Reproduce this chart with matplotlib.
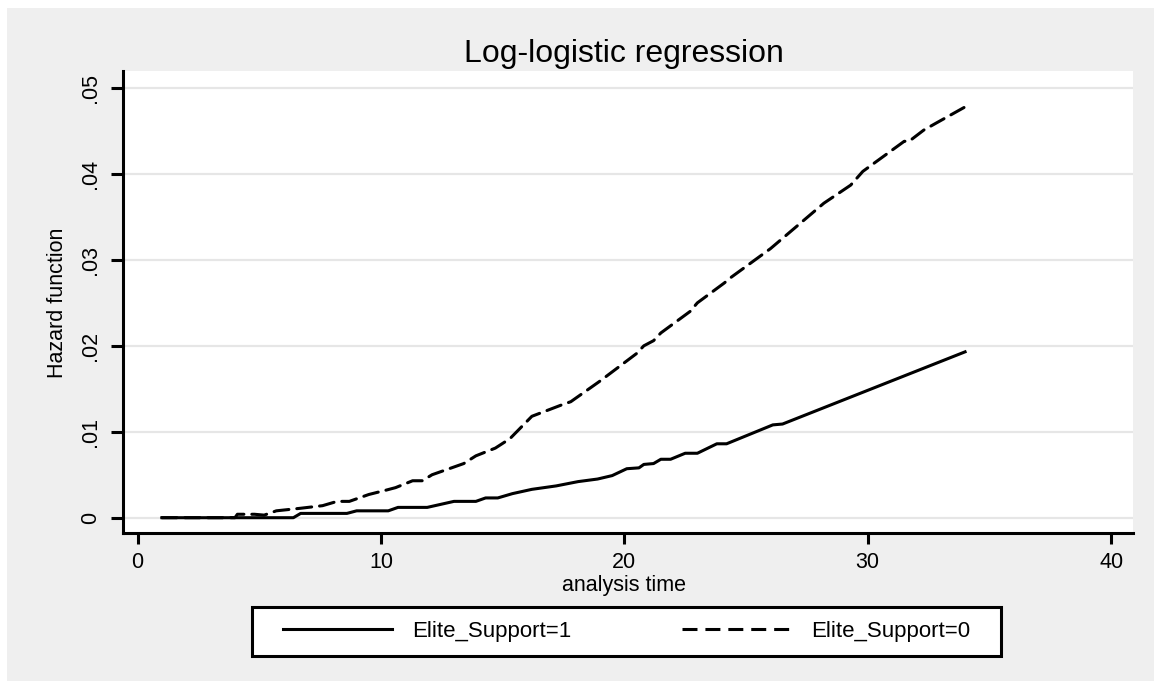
import matplotlib
matplotlib.use("Agg")
import matplotlib.pyplot as plt
from matplotlib.lines import Line2D
from matplotlib.patches import Rectangle

plt.rcParams['font.family'] = ['Liberation Sans', 'DejaVu Sans']

# Hazard curves (analysis time, hazard)
time_support1 = [1, 6.4, 6.7, 8.6, 9.0, 10.3, 10.7, 11.9, 13.0, 13.9, 14.3, 14.8, 15.4,
                 16.2, 17.2, 18.1, 18.9, 19.5, 20.1, 20.6, 20.8, 21.2, 21.5, 21.9, 22.5,
                 23.0, 23.8, 24.2, 26.1, 26.5, 34]
hazard_support1 = [0, 0, 0.0005, 0.0005, 0.0008, 0.0008, 0.0012, 0.0012, 0.0019, 0.0019,
                   0.0023, 0.0023, 0.0028, 0.0033, 0.0037, 0.0042, 0.0045, 0.0049, 0.0057,
                   0.0058, 0.0062, 0.0063, 0.0068, 0.0068, 0.0075, 0.0075, 0.0086, 0.0086,
                   0.0108, 0.0109, 0.0193]

time_support0 = [1, 4.0, 4.1, 4.8, 5.2, 5.7, 6.7, 7.6, 8.2, 8.7, 9.5, 10.2, 10.6, 11.3,
                 11.7, 12.1, 12.7, 13.4, 13.9, 14.7, 15.3, 16.2, 17.4, 17.8, 19.0, 20.5,
                 20.8, 21.2, 21.5, 22.7, 23.0, 24.1, 24.4, 26.0, 28.2, 29.3, 29.8, 31.5,
                 31.7, 32.3, 32.8, 34]
hazard_support0 = [0, 0, 0.0004, 0.0004, 0.0003, 0.0008, 0.0011, 0.0014, 0.0019, 0.0019,
                   0.0027, 0.0032, 0.0035, 0.0043, 0.0043, 0.0050, 0.0056, 0.0063, 0.0072,
                   0.0081, 0.0092, 0.0118, 0.0131, 0.0135, 0.0159, 0.0191, 0.0200, 0.0206,
                   0.0215, 0.0240, 0.0250, 0.0273, 0.0280, 0.0313, 0.0366, 0.0387, 0.0403,
                   0.0438, 0.0438, 0.0451, 0.0459, 0.0478]

x_ticks = [0, 10, 20, 30, 40]
y_ticks = [0, 0.01, 0.02, 0.03, 0.04, 0.05]
y_tick_labels = ['0', '.01', '.02', '.03', '.04', '.05']
series_labels = ['Elite_Support=1', 'Elite_Support=0']

W, H = 1154, 681
fig = plt.figure(figsize=(W / 100, H / 100), dpi=100)
fig.patch.set_facecolor('white')
# Stata-style grey graph region
fig.patches.append(Rectangle((7 / W, 0), 1 - 7 / W, 1 - 8 / H, transform=fig.transFigure,
                             facecolor='#efefef', edgecolor='none', zorder=-10))

ax = fig.add_axes([123 / W, 1 - 533 / H, (1133 - 123) / W, (533 - 71) / H])
ax.set_facecolor('white')

lw = 2.2
dash = (0, (4.9, 2.6))
ax.plot(time_support1, hazard_support1, color='black', lw=lw, solid_joinstyle='round')
ax.plot(time_support0, hazard_support0, color='black', lw=lw, linestyle=dash,
        dash_capstyle='round')

ax.set_xlim(-0.6, 40.9)
ax.set_ylim(-0.00178, 0.05198)
ax.set_xticks(x_ticks)
ax.set_xticklabels([str(v) for v in x_ticks])
ax.set_yticks(y_ticks)
ax.set_yticklabels(y_tick_labels, rotation=90, va='center')

ax.grid(axis='y', color='#e6e6e6', lw=1.6)
ax.set_axisbelow(True)
for side in ['top', 'right']:
    ax.spines[side].set_visible(False)
for side in ['left', 'bottom']:
    ax.spines[side].set_linewidth(2.2)
ax.tick_params(axis='x', length=8, width=2.2, direction='out', labelsize=15.5, pad=6)
ax.tick_params(axis='y', length=9, width=2.2, direction='out', labelsize=15.5, pad=7)

ax.set_xlabel('analysis time', fontsize=15.5, va='baseline')
ax.xaxis.set_label_coords(624 / W, 1 - 591 / H, transform=fig.transFigure)
ax.set_ylabel('Hazard function', fontsize=15.5, va='center')
ax.yaxis.set_label_coords(57.5 / W, 1 - 303 / H, transform=fig.transFigure)

fig.text(624 / W, 1 - 62 / H, 'Log-logistic regression', fontsize=23,
         ha='center', va='baseline')

# legend: frame drawn as its own box, entries centred inside it
fig.patches.append(Rectangle((252 / W, 1 - 656 / H), 749 / W, 49 / H,
                             transform=fig.transFigure, facecolor='white',
                             edgecolor='black', lw=2.2, zorder=1))
handles = [Line2D([], [], color='black', lw=lw),
           Line2D([], [], color='black', lw=lw, linestyle=dash)]
leg = fig.legend(handles, series_labels, loc='center', ncol=2,
                 bbox_to_anchor=(626.5 / W, 1 - 631.5 / H),
                 fontsize=16, handlelength=4.9, handletextpad=0.9, columnspacing=5,
                 frameon=False, borderaxespad=0)
leg.set_zorder(2)

fig.savefig('out.png', dpi=100, facecolor=fig.get_facecolor())
